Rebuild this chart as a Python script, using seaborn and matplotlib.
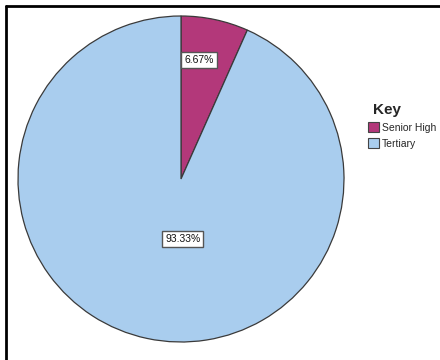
import matplotlib
matplotlib.use("Agg")
import matplotlib.pyplot as plt
import seaborn as sns
from matplotlib.lines import Line2D
from matplotlib.patches import Patch

sns.set_theme(style="white")
plt.rcParams['font.family'] = ['Liberation Sans', 'DejaVu Sans']

categories = ["Senior High", "Tertiary"]
values = [6.67, 93.33]
colors = ["#B3387A", "#A9CDEE"]
legend_title = "Key"

fig = plt.figure(figsize=(4.4, 3.6), dpi=100)
fig.patch.set_facecolor("white")

cx, cy, r = 181, 179, 163
W, H = 440, 360
ax = fig.add_axes([(cx - r) / W, (H - cy - r) / H, 2 * r / W, 2 * r / H])

wedges, texts, autotexts = ax.pie(
    values, colors=colors, startangle=90, counterclock=False,
    autopct="%.2f%%", pctdistance=0.74,
    wedgeprops=dict(edgecolor="#3a3a3a", linewidth=0.9),
    textprops=dict(fontsize=7.5, color="#111111"),
)
ax.set_xlim(-1.0, 1.0)
ax.set_ylim(-1.0, 1.0)
ax.set_aspect("equal")

label_pos = [(0.11, 0.73), (0.01, -0.37)]
for t, p in zip(autotexts, label_pos):
    t.set_position(p)
    t.set_ha("center")
    t.set_va("center")
    t.set_bbox(dict(boxstyle="square,pad=0.28", facecolor="white",
                    edgecolor="#555555", linewidth=1.0))

handles = [Patch(facecolor=c, edgecolor="#444444", linewidth=0.8) for c in colors]
leg = fig.legend(handles, categories, title=legend_title,
                 loc="upper left", bbox_to_anchor=(0.82, 0.735),
                 frameon=False, fontsize=7.5, handlelength=1.0, handleheight=1.0,
                 handletextpad=0.3, labelspacing=0.55, borderpad=0.2,
                 alignment="left")
leg.get_title().set_fontsize(11)
leg.get_title().set_fontweight("bold")
leg.get_title().set_position((5, 0))

# frame lines (top and left) as in the screenshot
fig.add_artist(Line2D([5.5 / W, 5.5 / W], [0, 1 - 5.5 / H], color="black", lw=2.0,
                      transform=fig.transFigure))
fig.add_artist(Line2D([5.5 / W, 1], [1 - 5.5 / H, 1 - 5.5 / H], color="black", lw=2.0,
                      transform=fig.transFigure))

fig.savefig("out.png", dpi=100, facecolor="white")
